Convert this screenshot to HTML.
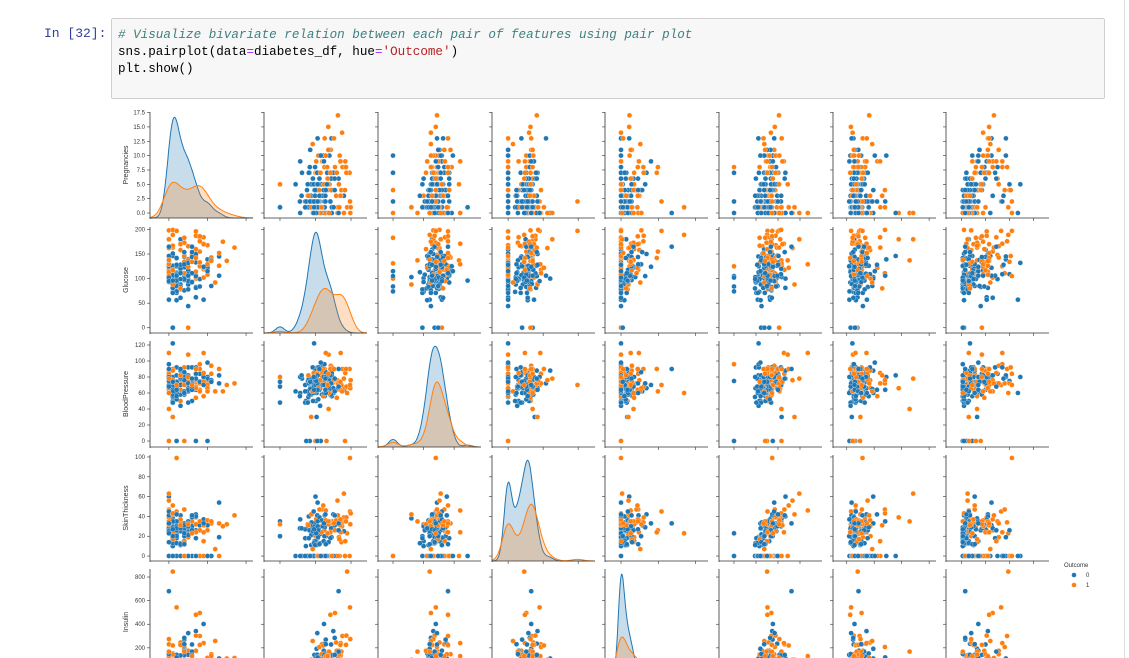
<!DOCTYPE html>
<html><head><meta charset="utf-8"><style>
body{margin:0;background:#fff;width:1129px;height:658px;overflow:hidden;position:relative;font-family:"Liberation Sans",sans-serif}
#prompt{position:absolute;left:44px;top:26px;font:13px "Liberation Mono",monospace;color:#303F9F}
#cell{position:absolute;left:111px;top:18px;width:992px;height:79px;background:#f7f7f7;border:1px solid #cfcfcf;border-radius:2px}
#code{position:absolute;left:6px;top:8px;font:12.6px/17px "Liberation Mono",monospace;color:#000;white-space:pre;margin:0}
.cm{color:#408080;font-style:italic}.st{color:#BA2121}.op{color:#AA22FF}
#edge{position:absolute;left:1124px;top:0;width:1px;height:658px;background:#ddd}
svg{position:absolute;left:0;top:0}
</style></head><body>
<div id="prompt">In [32]:</div>
<div id="cell"><pre id="code"><span class="cm"># Visualize bivariate relation between each pair of features using pair plot</span>
sns.pairplot(data<span class="op">=</span>diabetes_df, hue<span class="op">=</span><span class="st">'Outcome'</span>)
plt.show()</pre></div>
<div id="edge"></div>
<svg id="chart" width="1129" height="658"></svg>
<script>
const featureNames=["Pregnancies","Glucose","BloodPressure","SkinThickness","Insulin","BMI","DiabetesPedigreeFunction","Age"];
const outcomeLabels=["0","1"];
const records=[
[6,148,72,35,0,33.6,0.627,50,1],[1,85,66,29,0,26.6,0.351,31,0],[8,183,64,0,0,23.3,0.672,32,1],[1,89,66,23,94,28.1,0.167,21,0],
[0,137,40,35,168,43.1,2.288,33,1],[5,116,74,0,0,25.6,0.201,30,0],[3,78,50,32,88,31.0,0.248,26,1],[10,115,0,0,0,35.3,0.134,29,0],
[2,197,70,45,543,30.5,0.158,53,1],[8,125,96,0,0,0.0,0.232,54,1],[4,110,92,0,0,37.6,0.191,30,0],[10,168,74,0,0,38.0,0.537,34,1],
[10,139,80,0,0,27.1,1.441,57,0],[1,189,60,23,846,30.1,0.398,59,1],[5,166,72,19,175,25.8,0.587,51,1],[7,100,0,0,0,30.0,0.484,32,1],
[0,118,84,47,230,45.8,0.551,31,1],[7,107,74,0,0,29.6,0.254,31,1],[1,103,30,38,83,43.3,0.183,33,0],[1,115,70,30,96,34.6,0.529,32,1],
[3,126,88,41,235,39.3,0.704,27,0],[8,99,84,0,0,35.4,0.388,50,0],[7,196,90,0,0,39.8,0.451,41,1],[9,119,80,35,0,29.0,0.263,29,1],
[11,143,94,33,146,36.6,0.254,51,1],[10,125,70,26,115,31.1,0.205,41,1],[7,147,76,0,0,39.4,0.257,43,1],[1,97,66,15,140,23.2,0.487,22,0],
[13,145,82,19,110,22.2,0.245,57,0],[5,117,92,0,0,34.1,0.337,38,0],[5,109,75,26,0,36.0,0.546,60,0],[3,158,76,36,245,31.6,0.851,28,1],
[3,88,58,11,54,24.8,0.267,22,0],[6,92,92,0,0,19.9,0.188,28,0],[10,122,78,31,0,27.6,0.512,45,0],[4,103,60,33,192,24.0,0.966,33,0],
[11,138,76,0,0,33.2,0.420,35,0],[9,102,76,37,0,32.9,0.665,46,1],[2,90,68,42,0,38.2,0.503,27,1],[4,111,72,47,207,37.1,1.390,56,1],
[3,180,64,25,70,34.0,0.271,26,0],[7,133,84,0,0,40.2,0.696,37,0],[7,106,92,18,0,22.7,0.235,48,0],[9,171,110,24,240,45.4,0.721,54,1],
[7,159,64,0,0,27.4,0.294,40,0],[0,180,66,39,0,42.0,1.893,25,1],[1,146,56,0,0,29.7,0.564,29,0],[2,71,70,27,0,28.0,0.586,22,0],
[7,103,66,32,0,39.1,0.344,31,1],[7,105,0,0,0,0.0,0.305,24,0],[1,103,80,11,82,19.4,0.491,22,0],[1,101,50,15,36,24.2,0.526,26,0],
[5,88,66,21,23,24.4,0.342,30,0],[8,176,90,34,300,33.7,0.467,58,1],[7,150,66,42,342,34.7,0.718,42,0],[1,73,50,10,0,23.0,0.248,21,0],
[7,187,68,39,304,37.7,0.254,41,1],[0,100,88,60,110,46.8,0.962,31,0],[0,146,82,0,0,40.5,1.781,44,0],[0,105,64,41,142,41.5,0.173,22,0],
[2,84,0,0,0,0.0,0.304,21,0],[8,133,72,0,0,32.9,0.270,39,1],[5,44,62,0,0,25.0,0.587,36,0],[2,141,58,34,128,25.4,0.699,24,0],
[7,114,66,0,0,32.8,0.258,42,1],[5,99,74,27,0,29.0,0.203,32,0],[0,109,88,30,0,32.5,0.855,38,1],[2,109,92,0,0,42.7,0.845,54,0],
[1,95,66,13,38,19.6,0.334,25,0],[4,146,85,27,100,28.9,0.189,27,0],[2,100,66,20,90,32.9,0.867,28,1],[5,139,64,35,140,28.6,0.411,26,0],
[13,126,90,0,0,43.4,0.583,42,1],[4,129,86,20,270,35.1,0.231,23,0],[1,79,75,30,0,32.0,0.396,22,0],[1,0,48,20,0,24.7,0.140,22,0],
[7,62,78,0,0,32.6,0.391,41,0],[5,95,72,33,0,37.7,0.370,27,0],[0,131,0,0,0,43.2,0.270,26,1],[2,112,66,22,0,25.0,0.307,24,0],
[3,113,44,13,0,22.4,0.140,22,0],[2,74,0,0,0,0.0,0.102,22,0],[7,83,78,26,71,29.3,0.767,36,0],[0,101,65,28,0,24.6,0.237,22,0],
[5,137,108,0,0,48.8,0.227,37,1],[2,110,74,29,125,32.4,0.698,27,0],[13,106,72,54,0,36.6,0.178,45,0],[2,100,68,25,71,38.5,0.324,26,0],
[15,136,70,32,110,37.1,0.153,43,1],[1,107,68,19,0,26.5,0.165,24,0],[1,80,55,0,0,19.1,0.258,21,0],[4,123,80,15,176,32.0,0.443,34,0],
[7,81,78,40,48,46.7,0.261,42,0],[4,134,72,0,0,23.8,0.277,60,1],[2,142,82,18,64,24.7,0.761,21,0],[6,144,72,27,228,33.9,0.255,40,0],
[2,92,62,28,0,31.6,0.130,24,0],[1,71,48,18,76,20.4,0.323,22,0],[6,93,50,30,64,28.7,0.356,23,0],[1,122,90,51,220,49.7,0.325,31,1],
[1,163,72,0,0,39.0,1.222,33,1],[1,151,60,0,0,26.1,0.179,22,0],[0,125,96,0,0,22.5,0.262,21,0],[1,81,72,18,40,26.6,0.283,24,0],
[2,85,65,0,0,39.6,0.930,27,0],[1,126,56,29,152,28.7,0.801,21,0],[1,96,122,0,0,22.4,0.207,27,0],[4,144,58,28,140,29.5,0.287,37,0],
[3,83,58,31,18,34.3,0.336,25,0],[0,95,85,25,36,37.4,0.247,24,1],[3,171,72,33,135,33.3,0.199,24,1],[8,155,62,26,495,34.0,0.543,46,1],
[1,89,76,34,37,31.2,0.192,23,0],[4,76,62,0,0,34.0,0.391,25,0],[7,160,54,32,175,30.5,0.588,39,1],[4,146,92,0,0,31.2,0.539,61,1],
[5,124,74,0,0,34.0,0.220,38,1],[5,78,48,0,0,33.7,0.654,25,0],[4,97,60,23,0,28.2,0.443,22,0],[4,99,76,15,51,23.2,0.223,21,0],
[0,162,76,56,100,53.2,0.759,25,1],[6,111,64,39,0,34.2,0.260,24,0],[2,107,74,30,100,33.6,0.404,23,0],[5,132,80,0,0,26.8,0.186,69,0],
[0,113,76,0,0,33.3,0.278,23,1],[1,88,30,42,99,55.0,0.496,26,1],[3,120,70,30,135,42.9,0.452,30,0],[1,118,58,36,94,33.3,0.261,23,0],
[1,117,88,24,145,34.5,0.403,40,1],[0,105,84,0,0,27.9,0.741,62,1],[4,173,70,14,168,29.7,0.361,33,1],[9,122,56,0,0,33.3,1.114,33,1],
[3,170,64,37,225,34.5,0.356,30,1],[8,84,74,31,0,38.3,0.457,39,0],[2,96,68,13,49,21.1,0.647,26,0],[2,125,60,20,140,33.8,0.088,31,0],
[0,100,70,26,50,30.8,0.597,21,0],[0,93,60,25,92,28.7,0.532,22,0],[0,129,80,0,0,31.2,0.703,29,0],[5,105,72,29,325,36.9,0.159,28,0],
[3,128,78,0,0,21.1,0.268,55,0],[5,106,82,30,0,39.5,0.286,38,0],[2,108,52,26,63,32.5,0.318,22,0],[10,108,66,0,0,32.4,0.272,42,1],
[4,154,62,31,284,32.8,0.237,23,0],[0,102,75,23,0,0.0,0.572,21,0],[9,57,80,37,0,32.8,0.096,41,0],[2,106,64,35,119,30.5,1.400,34,0],
[17,163,72,41,114,40.9,0.817,47,1],[0,198,66,32,274,41.3,0.502,28,1],[14,175,62,30,0,33.6,0.212,38,1],[0,57,60,0,0,21.7,0.735,67,0],
[3,99,80,11,64,19.3,0.284,30,0],[0,129,110,46,130,67.1,0.319,26,1],[2,56,56,28,45,24.2,0.332,22,0],[1,0,68,35,0,32.0,0.389,22,0],
[9,184,85,15,0,30.0,1.213,49,1],[0,95,80,45,92,36.5,0.330,26,0],[1,199,76,43,0,42.9,1.394,22,1],[12,92,62,7,258,27.6,0.926,44,1],
[3,61,82,28,0,34.4,0.243,46,0],[10,129,62,36,0,41.2,0.441,38,1],[1,96,64,27,87,33.2,0.289,21,0],[2,197,70,99,0,34.7,0.575,62,1],
[4,183,0,0,0,28.4,0.212,36,1],[1,167,74,17,144,23.4,0.447,33,1],[0,137,68,14,148,24.8,0.143,21,0],[8,186,90,35,225,34.5,0.423,37,1],
[11,85,74,0,0,30.1,0.300,35,0],[3,111,90,12,78,28.4,0.495,29,0],[6,165,68,26,168,33.6,0.631,49,0],[0,180,78,63,14,59.4,2.420,25,1],
[1,71,62,0,0,21.8,0.416,26,0],[9,170,74,31,0,44.0,0.403,43,1],[5,0,80,32,0,41.0,0.346,37,1],[10,115,98,0,0,24.0,1.022,34,0],
[0,138,60,35,167,34.6,0.534,21,1],[3,80,82,31,70,34.2,1.292,27,1],[0,165,90,33,680,52.3,0.427,23,0],[7,142,90,24,480,30.4,0.128,43,1],
[4,129,60,12,231,27.5,0.527,31,0],[11,136,84,35,130,28.3,0.260,42,1],[6,154,78,41,140,46.1,0.571,27,0],[2,128,64,42,0,40.0,1.101,24,0],
[1,0,74,20,23,27.7,0.299,21,0],[9,124,70,33,402,35.4,0.282,34,0],[13,152,90,33,29,26.8,0.731,43,1],[6,134,70,23,130,35.4,0.542,29,1]
];
const xDomains=[[-4.9,21.8],[-45,245],[-24.6,144],[-23,124],[-215,1167],[-13.6,80],[-0.5,3.25],[7,93]];
const yDomains=[[-0.87,17.6],[-10.7,205],[-7.5,125],[-5,102],[-30,868]];
const yTicks=[[0,2.5,5,7.5,10,12.5,15,17.5],[0,50,100,150,200],[0,20,40,60,80,100,120],[0,20,40,60,80,100],[0,200,400,600,800]];
const yTickLabels=[["0.0","2.5","5.0","7.5","10.0","12.5","15.0","17.5"],["0","50","100","150","200"],["0","20","40","60","80","100","120"],["0","20","40","60","80","100"],["0","200","400","600","800"]];
const xTicks=[[0,10,20],[0,100,200],[0,50,100],[0,50,100],[0,500,1000],[0,20,40,60],[0,1,2,3],[20,40,60,80]];
const colors=["#1f77b4","#ff7f0e"];

const NS="http://www.w3.org/2000/svg";
const svg=document.getElementById('chart');
const colLeft=[150,264,378,492,605,719,833,946], W=103;
const rowTop=[112,227,341,455,569], H=106;
function mk(tag,attrs,parent){const e=document.createElementNS(NS,tag);for(const k in attrs)e.setAttribute(k,attrs[k]);(parent||svg).appendChild(e);return e;}
function sx(c,v){const d=xDomains[c];return colLeft[c]+(v-d[0])/(d[1]-d[0])*W;}
function sy(r,v){const d=yDomains[r];return rowTop[r]+H-(v-d[0])/(d[1]-d[0])*H;}

for(let r=0;r<5;r++){
  for(let c=0;c<8;c++){
    const g=mk('g',{});
    
    
    const x0=colLeft[c], y1=rowTop[r]+H;
    if(r===c){
      const n=records.length;
      const curves=[];let maxv=0;
      for(let k=0;k<2;k++){
        const vals=records.filter(d=>d[8]===k).map(d=>d[c]);
        const m=vals.reduce((a,b)=>a+b,0)/vals.length;
        const sd=Math.sqrt(vals.reduce((a,b)=>a+(b-m)*(b-m),0)/(vals.length-1));
        const bw=sd*Math.pow(vals.length,-0.2);
        const pts=[];const d=xDomains[c];
        for(let i=0;i<=150;i++){const x=d[0]+(d[1]-d[0])*i/150;let s=0;
          for(const v of vals){const z=(x-v)/bw;s+=Math.exp(-0.5*z*z);}
          s=s/(n*bw*Math.sqrt(2*Math.PI));pts.push([x,s]);if(s>maxv)maxv=s;}
        curves.push(pts);
      }
      for(let k=0;k<2;k++){
        const p=curves[k].map(([x,s])=>[sx(c,x),y1-s/maxv*H*0.95]);
        let dd='M'+p.map(q=>q[0].toFixed(1)+','+q[1].toFixed(1)).join('L');
        const a=mk('path',{d:dd+'L'+p[p.length-1][0].toFixed(1)+','+y1+'L'+p[0][0].toFixed(1)+','+y1+'Z',fill:colors[k],'fill-opacity':0.25,stroke:'none'},g);
        
        
        const l=mk('path',{d:dd,fill:'none',stroke:colors[k],'stroke-width':1},g);
        
        
      }
    } else {
      for(const d of records){
        const pt=mk('circle',{cx:sx(c,d[c]).toFixed(1),cy:sy(r,d[r]).toFixed(1),r:2.5,fill:colors[d[8]],stroke:'#fff','stroke-width':0.3},g);
        
        
      }
    }
    mk('line',{x1:x0,y1:rowTop[r],x2:x0,y2:y1+1,stroke:'#333','stroke-width':0.8},g);
    mk('line',{x1:x0,y1:y1,x2:x0+W,y2:y1,stroke:'#333','stroke-width':0.8},g);
    for(const t of xTicks[c]){const X=sx(c,t);mk('line',{x1:X,y1:y1,x2:X,y2:y1+3,stroke:'#333','stroke-width':0.6},g);}
    yTicks[r].forEach((t,i)=>{const Y=sy(r,t);if(Y<rowTop[r]-2)return;
      mk('line',{x1:x0-3,y1:Y,x2:x0,y2:Y,stroke:'#333','stroke-width':0.6},g);
      if(c===0){const tx=mk('text',{x:x0-5,y:Y+2,'text-anchor':'end','font-size':6,fill:'#333','font-family':'Liberation Sans, sans-serif'},g);
        tx.textContent=yTickLabels[r][i];
        
        }
    });
  }
  const yl=mk('text',{x:0,y:0,'text-anchor':'middle','font-size':7,fill:'#333','font-family':'Liberation Sans, sans-serif',transform:'translate(128,'+(rowTop[r]+H/2)+') rotate(-90)'});
  yl.textContent=featureNames[r];
  
  
}
const lg=mk('g',{});


const lt=mk('text',{x:1064,y:567,'font-size':6,fill:'#333','font-family':'Liberation Sans, sans-serif'},lg);lt.textContent='Outcome';


outcomeLabels.forEach((lab,k)=>{
  const y=575+k*10;
  const c=mk('circle',{cx:1074,cy:y,r:2.3,fill:colors[k]},lg);
  
  
  const t=mk('text',{x:1086,y:y+2,'font-size':6,fill:'#333','font-family':'Liberation Sans, sans-serif'},lg);t.textContent=lab;
  
  
});
</script>
</body></html>
